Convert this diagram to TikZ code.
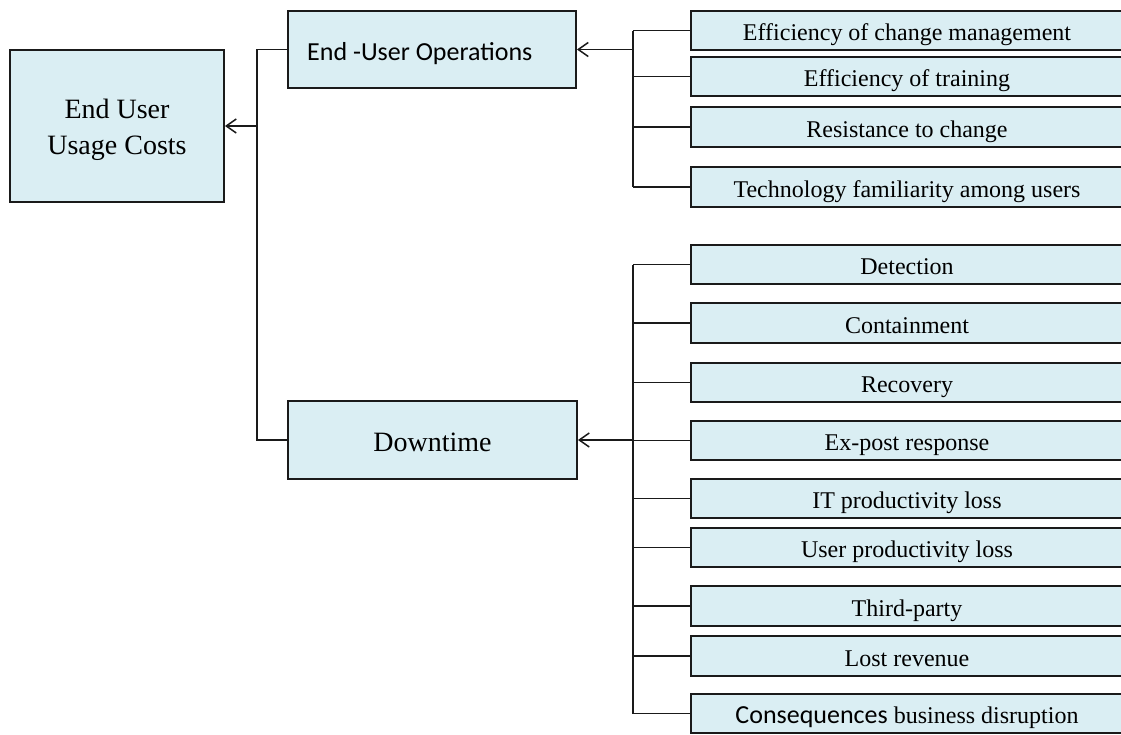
\documentclass[tikz,border=0pt]{standalone}
\usepackage{fontspec}
\setmainfont{Liberation Serif}
\newfontfamily\carlito{Carlito}
\usetikzlibrary{arrows.meta}

\definecolor{boxfill}{HTML}{DAEEF3}
\definecolor{boxline}{HTML}{1A1A1A}

\tikzset{
  box/.style={rectangle, draw=boxline, fill=boxfill, line width=1.9pt, inner sep=0pt},
  % factor boxes run past the right edge; the text stays centred on the visible part
  leaf/.style={box, minimum width=448pt, minimum height=39.5pt,
    font=\fontsize{24}{28}\selectfont, text height=20.4pt, text depth=0pt,
    execute at begin node=\hspace*{-16pt}},
  conn/.style={draw=boxline, line width=1.5pt},
  arrowconn/.style={conn, -{Straight Barb[length=10pt, width=14pt, line width=1.5pt]}},
}

\begin{document}
\begin{tikzpicture}[x=1pt, y=-1pt]
\useasboundingbox (0,0) rectangle (1121,734);
\clip (0,0) rectangle (1121,734);

% main boxes
\node[box, minimum width=214pt, minimum height=152pt] (root) at (117,126) {};
\node[align=center, font=\fontsize{28}{36}\selectfont, yshift=-3.5pt] (rootlabel)
  at (root.center) {End User\\Usage Costs};

\node[box, minimum width=288pt, minimum height=77pt] (eop) at (432,49.5) {};
\node[anchor=base west, inner sep=0pt, font=\carlito\fontsize{26}{30}\selectfont] (eoplabel)
  at (307,60) {End -User Operations};

\node[box, minimum width=289pt, minimum height=78pt,
  font=\fontsize{28}{32}\selectfont, text height=22pt, text depth=0pt] (dt) at (432.5,440) {Downtime};

% end-user operation factors
\node[leaf] (e1) at (915,30.5) {Efficiency of change management};
\node[leaf] (e2) at (915,76.5) {Efficiency of training};
\node[leaf] (e3) at (915,127) {Resistance to change};
\node[leaf] (e4) at (915,187) {Technology familiarity among users};

% downtime factors
\node[leaf] (d1) at (915,264.5) {Detection};
\node[leaf] (d2) at (915,323) {Containment};
\node[leaf] (d3) at (915,382.5) {Recovery};
\node[leaf] (d4) at (915,440.5) {Ex-post response};
\node[leaf] (d5) at (915,498.5) {IT productivity loss};
\node[leaf] (d6) at (915,547.5) {User productivity loss};
\node[leaf] (d7) at (915,606) {Third-party};
\node[leaf] (d8) at (915,656) {Lost revenue};
\node[leaf] (d9) at (915,713.5) {{\carlito\fontsize{26}{28}\selectfont Consequences} business disruption};

% junction points
\coordinate (jl) at (257,126);
\coordinate (jt) at (633,49.5);
\coordinate (jb) at (633,440);

% left tree
\draw[conn] (eop.west) -| (jl) |- (dt.west);
\draw[arrowconn] (jl) -- (root.east);

% top-right tree
\draw[conn] (e1.west -| jt) -- (e4.west -| jt);
\foreach \n in {e1,e2,e3,e4} \draw[conn] (\n.west) -- (\n.west -| jt);
\draw[arrowconn] (jt) -- (eop.east);

% bottom-right tree
\draw[conn] (d1.west -| jb) -- (d9.west -| jb);
\foreach \n in {d1,d2,d3,d4,d5,d6,d7,d8,d9} \draw[conn] (\n.west) -- (\n.west -| jb);
\draw[arrowconn] (jb) -- (dt.east);
\end{tikzpicture}
\end{document}
